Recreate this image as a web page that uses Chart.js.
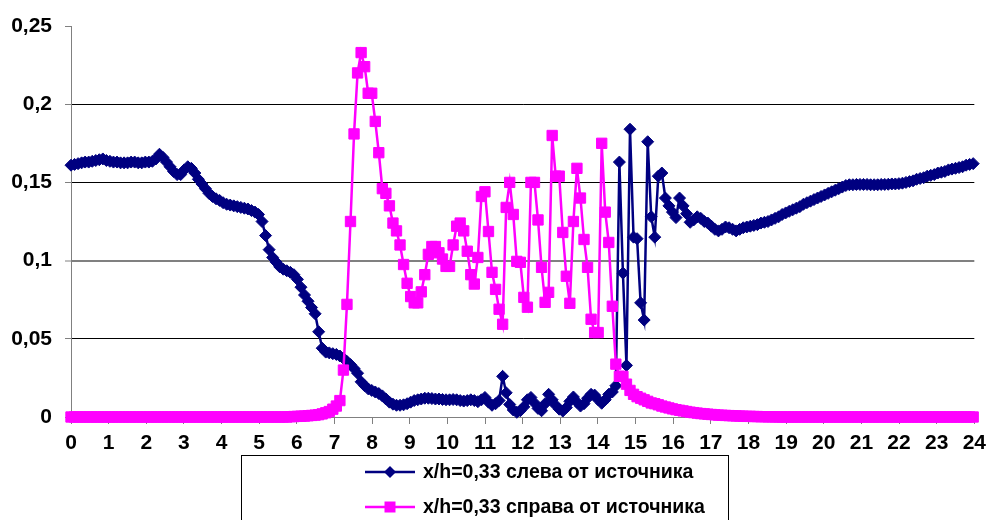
<!DOCTYPE html>
<html>
<head>
<meta charset="utf-8">
<script src="https://cdn.jsdelivr.net/npm/chart.js@4"></script>
<style>
  html, body { margin: 0; padding: 0; background: #fff; }
  #wrap { width: 993px; height: 520px; position: relative; }
</style>
</head>
<body>
<div id="wrap"><canvas id="c" width="993" height="520"></canvas></div>
<script>
// Sampling positions along x (step 0.094)
const xs = [
  0, 0.094, 0.188, 0.282, 0.376, 0.47, 0.564, 0.658, 0.752, 0.846,
  0.94, 1.034, 1.128, 1.222, 1.316, 1.41, 1.504, 1.598, 1.692, 1.786,
  1.88, 1.974, 2.068, 2.162, 2.256, 2.35, 2.444, 2.538, 2.632, 2.726,
  2.82, 2.914, 3.008, 3.102, 3.196, 3.29, 3.384, 3.478, 3.572, 3.666,
  3.76, 3.854, 3.948, 4.042, 4.136, 4.23, 4.324, 4.418, 4.512, 4.606,
  4.7, 4.794, 4.888, 4.982, 5.076, 5.17, 5.264, 5.358, 5.452, 5.546,
  5.64, 5.734, 5.828, 5.922, 6.016, 6.11, 6.204, 6.298, 6.392, 6.486,
  6.58, 6.674, 6.768, 6.862, 6.956, 7.05, 7.144, 7.238, 7.332, 7.426,
  7.52, 7.614, 7.708, 7.802, 7.896, 7.99, 8.084, 8.178, 8.272, 8.366,
  8.46, 8.554, 8.648, 8.742, 8.836, 8.93, 9.024, 9.118, 9.212, 9.306,
  9.4, 9.494, 9.588, 9.682, 9.776, 9.87, 9.964, 10.058, 10.152, 10.246,
  10.34, 10.434, 10.528, 10.622, 10.716, 10.81, 10.904, 10.998, 11.092, 11.186,
  11.28, 11.374, 11.468, 11.562, 11.656, 11.75, 11.844, 11.938, 12.032, 12.126,
  12.22, 12.314, 12.408, 12.502, 12.596, 12.69, 12.784, 12.878, 12.972, 13.066,
  13.16, 13.254, 13.348, 13.442, 13.536, 13.63, 13.724, 13.818, 13.912, 14.006,
  14.1, 14.194, 14.288, 14.382, 14.476, 14.57, 14.664, 14.758, 14.852, 14.946,
  15.04, 15.134, 15.228, 15.322, 15.416, 15.51, 15.604, 15.698, 15.792, 15.886,
  15.98, 16.074, 16.168, 16.262, 16.356, 16.45, 16.544, 16.638, 16.732, 16.826,
  16.92, 17.014, 17.108, 17.202, 17.296, 17.39, 17.484, 17.578, 17.672, 17.766,
  17.86, 17.954, 18.048, 18.142, 18.236, 18.33, 18.424, 18.518, 18.612, 18.706,
  18.8, 18.894, 18.988, 19.082, 19.176, 19.27, 19.364, 19.458, 19.552, 19.646,
  19.74, 19.834, 19.928, 20.022, 20.116, 20.21, 20.304, 20.398, 20.492, 20.586,
  20.68, 20.774, 20.868, 20.962, 21.056, 21.15, 21.244, 21.338, 21.432, 21.526,
  21.62, 21.714, 21.808, 21.902, 21.996, 22.09, 22.184, 22.278, 22.372, 22.466,
  22.56, 22.654, 22.748, 22.842, 22.936, 23.03, 23.124, 23.218, 23.312, 23.406,
  23.5, 23.594, 23.688, 23.782, 23.876, 23.97
];

// x/h = 0,33 to the left of the source
const leftOfSource = [
  0.161, 0.1615, 0.162, 0.1625, 0.163, 0.163, 0.1635, 0.164, 0.1645, 0.165,
  0.164, 0.1635, 0.163, 0.163, 0.1625, 0.1625, 0.1625, 0.163, 0.163, 0.1625,
  0.1625, 0.163, 0.163, 0.1635, 0.165, 0.168, 0.166, 0.163, 0.160, 0.157,
  0.155, 0.155, 0.158, 0.160, 0.159, 0.156, 0.152, 0.149, 0.146, 0.143,
  0.141, 0.1395, 0.1385, 0.137, 0.136, 0.1355, 0.135, 0.1345, 0.134, 0.1335,
  0.133, 0.132, 0.131, 0.1295, 0.125, 0.116, 0.107, 0.102, 0.099, 0.096,
  0.0945, 0.0935, 0.0925, 0.091, 0.088, 0.083, 0.078, 0.074, 0.070, 0.066,
  0.0545, 0.044, 0.0415, 0.041, 0.0405, 0.040, 0.039, 0.0375, 0.0355, 0.0335,
  0.031, 0.028, 0.0225, 0.020, 0.018, 0.017, 0.016, 0.015, 0.0135, 0.0115,
  0.0095, 0.0082, 0.0075, 0.0075, 0.0078, 0.0085, 0.0095, 0.0105, 0.011, 0.0115,
  0.012, 0.012, 0.0118, 0.0115, 0.0115, 0.0112, 0.011, 0.011, 0.0112, 0.011,
  0.0105, 0.0102, 0.0105, 0.011, 0.0105, 0.0098, 0.011, 0.0125, 0.0095, 0.0075,
  0.0085, 0.0105, 0.026, 0.0155, 0.008, 0.0045, 0.003, 0.004, 0.0065, 0.011,
  0.0125, 0.009, 0.0055, 0.004, 0.0085, 0.0145, 0.011, 0.0075, 0.005, 0.0038,
  0.006, 0.010, 0.0128, 0.0095, 0.007, 0.0085, 0.012, 0.0145, 0.014, 0.011,
  0.0088, 0.011, 0.0145, 0.016, 0.020, 0.163, 0.092, 0.033, 0.184, 0.115,
  0.114, 0.073, 0.062, 0.176, 0.128, 0.115, 0.154, 0.156, 0.140, 0.135,
  0.131, 0.1275, 0.140, 0.135, 0.130, 0.1245, 0.126, 0.128, 0.127, 0.125,
  0.124, 0.122, 0.120, 0.119, 0.120, 0.1215, 0.121, 0.120, 0.119, 0.120,
  0.121, 0.1215, 0.122, 0.1225, 0.123, 0.124, 0.1245, 0.125, 0.126, 0.127,
  0.128, 0.1295, 0.1305, 0.1315, 0.1325, 0.1335, 0.1345, 0.136, 0.137, 0.138,
  0.139, 0.140, 0.141, 0.142, 0.143, 0.144, 0.145, 0.146, 0.147, 0.148,
  0.1485, 0.1485, 0.1487, 0.1487, 0.1487, 0.1487, 0.1485, 0.1485, 0.1485, 0.1487,
  0.1487, 0.1488, 0.149, 0.149, 0.1492, 0.1495, 0.150, 0.1505, 0.151, 0.152,
  0.1525, 0.153, 0.154, 0.1545, 0.155, 0.156, 0.1565, 0.157, 0.158, 0.1585,
  0.159, 0.1595, 0.160, 0.161, 0.1615, 0.162
];

// x/h = 0,33 to the right of the source
const rightOfSource = [
  0, 0, 0, 0, 0, 0, 0, 0, 0, 0,
  0, 0, 0, 0, 0, 0, 0, 0, 0, 0,
  0, 0, 0, 0, 0, 0, 0, 0, 0, 0,
  0, 0, 0, 0, 0, 0, 0, 0, 0, 0,
  0, 0, 0, 0, 0, 0, 0, 0, 0, 0,
  0, 0, 0, 0, 0, 0, 0, 0, 0, 0,
  0, 0, 0.0002, 0.0003, 0.0004, 0.0005, 0.0006, 0.0008, 0.001, 0.0012,
  0.0015, 0.002, 0.0027, 0.0035, 0.005, 0.007, 0.0105, 0.030, 0.072, 0.125,
  0.181, 0.220, 0.233, 0.224, 0.207, 0.207, 0.189, 0.169, 0.146, 0.143,
  0.135, 0.124, 0.119, 0.110, 0.0975, 0.0855, 0.077, 0.073, 0.073, 0.080,
  0.091, 0.104, 0.109, 0.109, 0.105, 0.101, 0.0963, 0.0963, 0.110, 0.122,
  0.124, 0.119, 0.106, 0.091, 0.085, 0.102, 0.141, 0.144, 0.1186, 0.0925,
  0.0816, 0.0689, 0.0593, 0.134, 0.150, 0.1295, 0.0995, 0.0989, 0.0765, 0.0702,
  0.150, 0.150, 0.126, 0.0957, 0.0733, 0.0797, 0.180, 0.154, 0.154, 0.118,
  0.090, 0.0727, 0.125, 0.159, 0.140, 0.1135, 0.0957, 0.0625, 0.054, 0.054,
  0.175, 0.131, 0.1116, 0.0708, 0.0338, 0.026, 0.026, 0.021, 0.017, 0.0145,
  0.013, 0.012, 0.011, 0.010, 0.009, 0.0085, 0.0078, 0.007, 0.0064, 0.0058,
  0.0052, 0.0047, 0.0043, 0.0039, 0.0035, 0.0031, 0.0028, 0.0025, 0.0022, 0.002,
  0.0018, 0.0016, 0.0014, 0.0012, 0.0011, 0.001, 0.0009, 0.0008, 0.0007, 0.0006,
  0.0005, 0.0004, 0.0004, 0.0003, 0.0003, 0.0002, 0.0002, 0.0001, 0.0001, 0.0001,
  0, 0, 0, 0, 0, 0, 0, 0, 0, 0,
  0, 0, 0, 0, 0, 0, 0, 0, 0, 0,
  0, 0, 0, 0, 0, 0, 0, 0, 0, 0,
  0, 0, 0, 0, 0, 0, 0, 0, 0, 0,
  0, 0, 0, 0, 0, 0, 0, 0, 0, 0,
  0, 0, 0, 0, 0, 0
];

const seriesNames = ['x/h=0,33 слева от источника', 'x/h=0,33 справа от источника'];
const xTickLabels = ['0','1','2','3','4','5','6','7','8','9','10','11','12','13','14','15','16','17','18','19','20','21','22','23','24'];
const yTickLabels = ['0','0,05','0,1','0,15','0,2','0,25'];

const NAVY = '#000080';
const MAGENTA = '#FF00FF';
const AXIS_GRAY = '#808080';
const FONT_FAMILY = '"Liberation Sans", Arial, Helvetica, sans-serif';

function pairs(ys) {
  return xs.map((x, i) => ({ x: x, y: ys[i] }));
}

// Boxed legend under the plot, one entry per row
const boxedLegend = {
  id: 'boxedLegend',
  afterDraw(chart) {
    const ctx = chart.ctx;
    ctx.save();
    ctx.strokeStyle = '#000';
    ctx.lineWidth = 1;
    ctx.strokeRect(241.5, 455.5, 487, 80);
    chart.data.datasets.forEach((ds, k) => {
      const y = 472 + k * 35;
      ctx.strokeStyle = ds.borderColor;
      ctx.lineWidth = 2.5;
      ctx.beginPath();
      ctx.moveTo(365, y);
      ctx.lineTo(415, y);
      ctx.stroke();
      ctx.fillStyle = ds.borderColor;
      ctx.beginPath();
      if (ds.pointStyle === 'rectRot') {
        ctx.moveTo(390 - 6, y);
        ctx.lineTo(390, y - 6);
        ctx.lineTo(390 + 6, y);
        ctx.lineTo(390, y + 6);
        ctx.closePath();
      } else {
        ctx.rect(384.5, y - 5.5, 11, 11);
      }
      ctx.fill();
      ctx.fillStyle = '#000';
      ctx.font = 'bold 19.5px ' + FONT_FAMILY;
      ctx.textAlign = 'left';
      ctx.textBaseline = 'middle';
      ctx.fillText(ds.label, 423, y + 1);
    });
    ctx.restore();
  }
};

new Chart(document.getElementById('c'), {
  type: 'line',
  data: {
    datasets: [
      {
        label: seriesNames[0],
        data: pairs(leftOfSource),
        borderColor: NAVY,
        backgroundColor: NAVY,
        borderWidth: 2.5,
        pointStyle: 'rectRot',
        pointRadius: 6,
        pointBorderWidth: 1,
        pointBackgroundColor: NAVY,
        pointBorderColor: NAVY,
        tension: 0,
        clip: false,
        order: 1
      },
      {
        label: seriesNames[1],
        data: pairs(rightOfSource),
        borderColor: MAGENTA,
        backgroundColor: MAGENTA,
        borderWidth: 2.5,
        pointStyle: 'rect',
        pointRadius: 7.3,
        pointBorderWidth: 1,
        pointBackgroundColor: MAGENTA,
        pointBorderColor: MAGENTA,
        tension: 0,
        clip: false,
        order: 0
      }
    ]
  },
  options: {
    responsive: false,
    animation: false,
    events: [],
    layout: { padding: { left: 0, top: 26, right: 18, bottom: 63 } },
    plugins: { legend: { display: false }, tooltip: { enabled: false } },
    scales: {
      x: {
        type: 'linear',
        min: 0,
        max: 24,
        afterFit(scale) { scale.height = 40; },
        border: { display: true, color: AXIS_GRAY, width: 1 },
        grid: {
          drawOnChartArea: false,
          drawTicks: true,
          tickLength: 7,
          tickColor: AXIS_GRAY,
          tickWidth: 1
        },
        ticks: {
          stepSize: 1,
          autoSkip: false,
          maxRotation: 0,
          padding: 7,
          color: '#000',
          font: { family: FONT_FAMILY, size: 21, weight: 'bold' },
          callback: (v, i) => xTickLabels[i]
        }
      },
      y: {
        type: 'linear',
        min: 0,
        max: 0.25,
        afterFit(scale) { scale.width = 71; },
        border: { display: true, color: AXIS_GRAY, width: 1 },
        grid: {
          drawTicks: true,
          tickLength: 6,
          tickColor: AXIS_GRAY,
          tickWidth: 1,
          color: (c) => {
            const i = c.index;
            if (i === 5) return 'rgba(0,0,0,0)';
            if (i === 0 || i === 2) return AXIS_GRAY;
            return '#000';
          },
          lineWidth: (c) => (c.index === 2 ? 2 : 1)
        },
        ticks: {
          stepSize: 0.05,
          padding: 13,
          color: '#000',
          font: { family: FONT_FAMILY, size: 21, weight: 'bold' },
          callback: (v, i) => yTickLabels[i]
        }
      }
    }
  },
  plugins: [boxedLegend]
});
</script>
</body>
</html>
